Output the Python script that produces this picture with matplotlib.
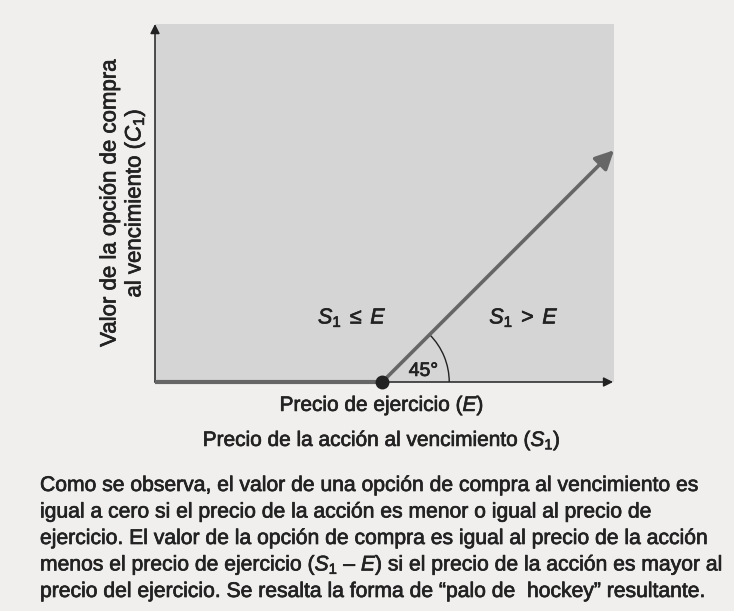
import matplotlib
matplotlib.use('Agg')
import matplotlib.pyplot as plt
import matplotlib.patheffects as pe
from matplotlib.patches import Arc

# Hockey-stick payoff of a call option at expiry
strike = 49.5
stock_price = [0, strike, 100]
call_value = [max(s - strike, 0) for s in stock_price]
angle_deg = 45

y_label_lines = ['Valor de la opción de compra', r'al vencimiento ($\mathit{C}_1$)']
strike_label = r'Precio de ejercicio ($\mathit{E}$)'
x_label = r'Precio de la acción al vencimiento ($\mathit{S}_1$)'
left_region = r'$\mathit{S}_1\;\leq\;\mathit{E}$'
right_region = r'$\mathit{S}_1\;>\;\mathit{E}$'
caption_lines = [
    'Como se observa, el valor de una opción de compra al vencimiento es',
    'igual a cero si el precio de la acción es menor o igual al precio de',
    'ejercicio. El valor de la opción de compra es igual al precio de la acción',
    r'menos el precio de ejercicio ($\mathit{S}_1$ – $\mathit{E}$) si el precio de la acción es mayor al',
    'precio del ejercicio. Se resalta la forma de “palo de  hockey” resultante.',
]

plt.rcParams['font.family'] = ['Liberation Sans', 'DejaVu Sans']
plt.rcParams['mathtext.fontset'] = 'custom'
plt.rcParams['mathtext.rm'] = 'Liberation Sans'
plt.rcParams['mathtext.it'] = 'Liberation Sans:italic'

bg = '#f0efed'
panel = '#d5d5d5'
stick = '#666666'
ink = '#222222'
# a thin outline gives the medium weight of the original type
medium = [pe.withStroke(linewidth=0.5, foreground=ink)]

W, H = 734, 611
fig = plt.figure(figsize=(W / 100, H / 100), dpi=100, facecolor=bg)

# axes placed on the grey panel (pixel box)
x0, y0, x1, y1 = 155, 382, 614, 24
ax = fig.add_axes([x0 / W, 1 - y0 / H, (x1 - x0) / W, (y0 - y1) / H])
ax.set_facecolor(panel)
ax.set_xlim(0, 100)
ax.set_ylim(0, 78)
ax.set_xticks([])
ax.set_yticks([])
for s in ax.spines.values():
    s.set_visible(False)

# axes arrows
ax.annotate('', xy=(0, 1.0), xytext=(0, 0), xycoords='axes fraction',
            arrowprops=dict(arrowstyle='-|>', lw=1.1, color=ink, mutation_scale=14,
                            shrinkA=0, shrinkB=0), annotation_clip=False)
ax.annotate('', xy=(0.998, 0), xytext=(0, 0), xycoords='axes fraction',
            arrowprops=dict(arrowstyle='-|>', lw=1.1, color=ink, mutation_scale=14,
                            shrinkA=0, shrinkB=0), annotation_clip=False)

# payoff: flat part then 45 degree arrow
ax.plot(stock_price[:2], call_value[:2], color=stick, lw=3.0, solid_capstyle='butt',
        clip_on=False, zorder=3)
ax.annotate('', xy=(stock_price[2], call_value[2]), xytext=(stock_price[1], call_value[1]),
            arrowprops=dict(arrowstyle='-|>,head_length=0.7,head_width=0.35', lw=2.6,
                            color=stick, mutation_scale=16, shrinkA=0, shrinkB=0),
            annotation_clip=False, zorder=3)
ax.plot([strike], [0], 'o', color=ink, ms=9, clip_on=False, zorder=4)

ax.add_patch(Arc((strike, 0), 29.2, 29.2, theta1=0, theta2=angle_deg, color=ink, lw=1.0))
ax.text(strike + 9.0, 2.3, f'{angle_deg}°', fontsize=14, color=ink, ha='center',
        va='center', path_effects=medium)

ax.text(43.0, 14.0, left_region, fontsize=15.5, color=ink, ha='center', va='center',
        path_effects=medium)
ax.text(80.4, 14.0, right_region, fontsize=15.5, color=ink, ha='center', va='center',
        path_effects=medium)


# labels in pixel positions
def fig_text(px, py, s, **kw):
    fig.text(px / W, 1 - py / H, s, color=ink, path_effects=medium, **kw)


fig_text(382, 411, strike_label, fontsize=15, ha='center', va='baseline')
fig_text(382, 446, x_label, fontsize=15, ha='center', va='baseline')
fig_text(110, 203, y_label_lines[0], fontsize=16, rotation=90, ha='center', va='center')
fig_text(135, 203, y_label_lines[1], fontsize=16, rotation=90, ha='center', va='center')

for i, line in enumerate(caption_lines):
    fig_text(40, 491 + 26.5 * i, line, fontsize=15.2, ha='left', va='baseline')

fig.savefig('out.png', dpi=100, facecolor=bg)
